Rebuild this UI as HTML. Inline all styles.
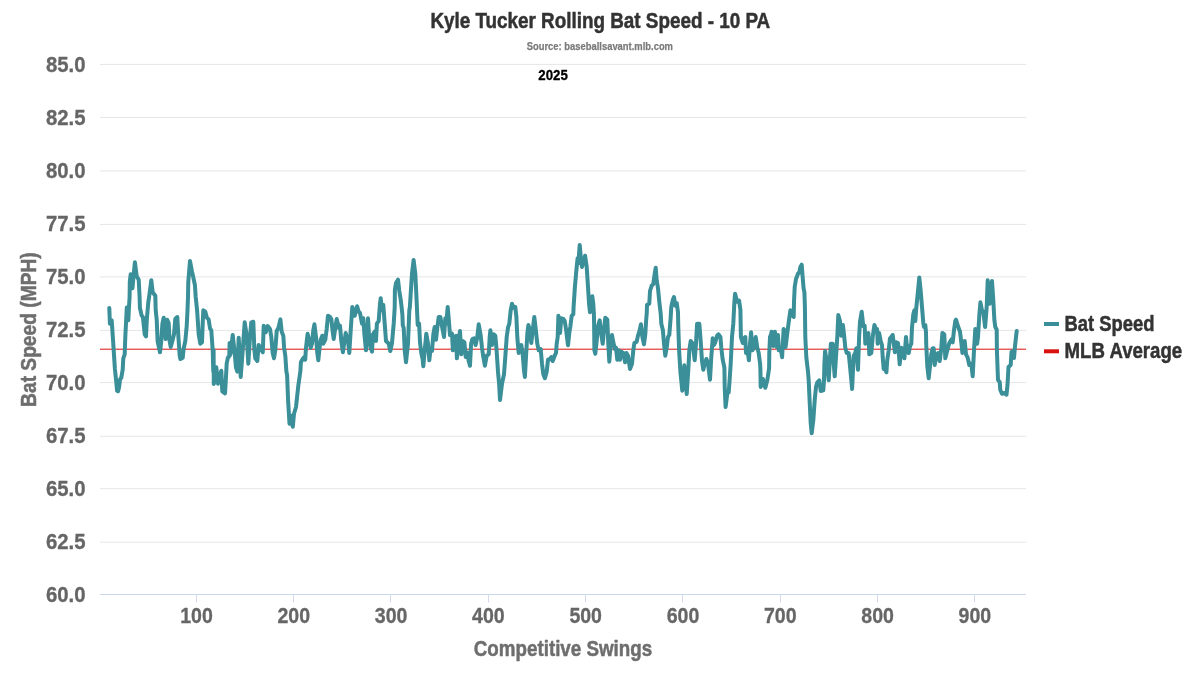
<!DOCTYPE html>
<html lang="en"><head><meta charset="utf-8"><title>Kyle Tucker Rolling Bat Speed - 10 PA</title>
<style>
html,body{margin:0;padding:0;background:#fff;}
body{width:1200px;height:675px;overflow:hidden;}
svg{display:block;}
svg text{font-family:"Liberation Sans",Arial,sans-serif;font-weight:bold;}
</style></head><body>
<svg width="1200" height="675" viewBox="0 0 1200 675">
<rect width="1200" height="675" fill="#ffffff"/>
<g stroke="#e6e6e6" stroke-width="1">
<line x1="100" x2="1026" y1="64.4" y2="64.4"/>
<line x1="100" x2="1026" y1="117.4" y2="117.4"/>
<line x1="100" x2="1026" y1="170.9" y2="170.9"/>
<line x1="100" x2="1026" y1="224.4" y2="224.4"/>
<line x1="100" x2="1026" y1="276.9" y2="276.9"/>
<line x1="100" x2="1026" y1="330.4" y2="330.4"/>
<line x1="100" x2="1026" y1="382.6" y2="382.6"/>
<line x1="100" x2="1026" y1="436.3" y2="436.3"/>
<line x1="100" x2="1026" y1="488.7" y2="488.7"/>
<line x1="100" x2="1026" y1="542.2" y2="542.2"/>
</g>
<line x1="100" x2="1026" y1="594.5" y2="594.5" stroke="#ccd6eb" stroke-width="1"/>
<g stroke="#d2daec" stroke-width="1">
<line x1="196.5" x2="196.5" y1="594.5" y2="602.5"/>
<line x1="293.5" x2="293.5" y1="594.5" y2="602.5"/>
<line x1="390.5" x2="390.5" y1="594.5" y2="602.5"/>
<line x1="488.5" x2="488.5" y1="594.5" y2="602.5"/>
<line x1="585.5" x2="585.5" y1="594.5" y2="602.5"/>
<line x1="682.5" x2="682.5" y1="594.5" y2="602.5"/>
<line x1="780.5" x2="780.5" y1="594.5" y2="602.5"/>
<line x1="877.5" x2="877.5" y1="594.5" y2="602.5"/>
<line x1="974.5" x2="974.5" y1="594.5" y2="602.5"/>
</g>
<g>
<text x="85.6" y="72.2" font-size="21.5" fill="#666666" stroke="#666666" stroke-width="0.3" stroke-linejoin="round" text-anchor="end" textLength="39.6" lengthAdjust="spacingAndGlyphs" >85.0</text>
<text x="85.6" y="125.2" font-size="21.5" fill="#666666" stroke="#666666" stroke-width="0.3" stroke-linejoin="round" text-anchor="end" textLength="39.6" lengthAdjust="spacingAndGlyphs" >82.5</text>
<text x="85.6" y="178.2" font-size="21.5" fill="#666666" stroke="#666666" stroke-width="0.3" stroke-linejoin="round" text-anchor="end" textLength="39.6" lengthAdjust="spacingAndGlyphs" >80.0</text>
<text x="85.6" y="231.2" font-size="21.5" fill="#666666" stroke="#666666" stroke-width="0.3" stroke-linejoin="round" text-anchor="end" textLength="39.6" lengthAdjust="spacingAndGlyphs" >77.5</text>
<text x="85.6" y="284.2" font-size="21.5" fill="#666666" stroke="#666666" stroke-width="0.3" stroke-linejoin="round" text-anchor="end" textLength="39.6" lengthAdjust="spacingAndGlyphs" >75.0</text>
<text x="85.6" y="337.2" font-size="21.5" fill="#666666" stroke="#666666" stroke-width="0.3" stroke-linejoin="round" text-anchor="end" textLength="39.6" lengthAdjust="spacingAndGlyphs" >72.5</text>
<text x="85.6" y="390.2" font-size="21.5" fill="#666666" stroke="#666666" stroke-width="0.3" stroke-linejoin="round" text-anchor="end" textLength="39.6" lengthAdjust="spacingAndGlyphs" >70.0</text>
<text x="85.6" y="443.2" font-size="21.5" fill="#666666" stroke="#666666" stroke-width="0.3" stroke-linejoin="round" text-anchor="end" textLength="39.6" lengthAdjust="spacingAndGlyphs" >67.5</text>
<text x="85.6" y="496.2" font-size="21.5" fill="#666666" stroke="#666666" stroke-width="0.3" stroke-linejoin="round" text-anchor="end" textLength="39.6" lengthAdjust="spacingAndGlyphs" >65.0</text>
<text x="85.6" y="549.2" font-size="21.5" fill="#666666" stroke="#666666" stroke-width="0.3" stroke-linejoin="round" text-anchor="end" textLength="39.6" lengthAdjust="spacingAndGlyphs" >62.5</text>
<text x="85.6" y="602.2" font-size="21.5" fill="#666666" stroke="#666666" stroke-width="0.3" stroke-linejoin="round" text-anchor="end" textLength="39.6" lengthAdjust="spacingAndGlyphs" >60.0</text>
</g>
<g>
<text x="196.5" y="623.2" font-size="21.5" fill="#666666" stroke="#666666" stroke-width="0.3" stroke-linejoin="round" text-anchor="middle" textLength="32.6" lengthAdjust="spacingAndGlyphs" >100</text>
<text x="293.8" y="623.2" font-size="21.5" fill="#666666" stroke="#666666" stroke-width="0.3" stroke-linejoin="round" text-anchor="middle" textLength="32.6" lengthAdjust="spacingAndGlyphs" >200</text>
<text x="391.1" y="623.2" font-size="21.5" fill="#666666" stroke="#666666" stroke-width="0.3" stroke-linejoin="round" text-anchor="middle" textLength="32.6" lengthAdjust="spacingAndGlyphs" >300</text>
<text x="488.4" y="623.2" font-size="21.5" fill="#666666" stroke="#666666" stroke-width="0.3" stroke-linejoin="round" text-anchor="middle" textLength="32.6" lengthAdjust="spacingAndGlyphs" >400</text>
<text x="585.7" y="623.2" font-size="21.5" fill="#666666" stroke="#666666" stroke-width="0.3" stroke-linejoin="round" text-anchor="middle" textLength="32.6" lengthAdjust="spacingAndGlyphs" >500</text>
<text x="683.0" y="623.2" font-size="21.5" fill="#666666" stroke="#666666" stroke-width="0.3" stroke-linejoin="round" text-anchor="middle" textLength="32.6" lengthAdjust="spacingAndGlyphs" >600</text>
<text x="780.3" y="623.2" font-size="21.5" fill="#666666" stroke="#666666" stroke-width="0.3" stroke-linejoin="round" text-anchor="middle" textLength="32.6" lengthAdjust="spacingAndGlyphs" >700</text>
<text x="877.6" y="623.2" font-size="21.5" fill="#666666" stroke="#666666" stroke-width="0.3" stroke-linejoin="round" text-anchor="middle" textLength="32.6" lengthAdjust="spacingAndGlyphs" >800</text>
<text x="974.9" y="623.2" font-size="21.5" fill="#666666" stroke="#666666" stroke-width="0.3" stroke-linejoin="round" text-anchor="middle" textLength="32.6" lengthAdjust="spacingAndGlyphs" >900</text>
</g>
<text x="430.4" y="27.7" font-size="22" fill="#333333" stroke="#333333" stroke-width="0.5" stroke-linejoin="round" text-anchor="start" textLength="339.8" lengthAdjust="spacingAndGlyphs" >Kyle Tucker Rolling Bat Speed - 10 PA</text>
<text x="526.7" y="49.7" font-size="11.4" fill="#7a7a7a" stroke="#7a7a7a" stroke-width="0.25" stroke-linejoin="round" text-anchor="start" textLength="146.3" lengthAdjust="spacingAndGlyphs" >Source: baseballsavant.mlb.com</text>
<text x="538.3" y="79.7" font-size="14.4" fill="#000000" stroke="#000000" stroke-width="0.3" stroke-linejoin="round" text-anchor="start" textLength="29.5" lengthAdjust="spacingAndGlyphs" >2025</text>
<text x="473.8" y="655.6" font-size="22" fill="#6e6e6e" stroke="#6e6e6e" stroke-width="0.5" stroke-linejoin="round" text-anchor="start" textLength="178.4" lengthAdjust="spacingAndGlyphs" >Competitive Swings</text>
<text transform="translate(35.6,406.9) rotate(-90)" x="0" y="0" font-size="22" fill="#6e6e6e" stroke="#6e6e6e" stroke-width="0.5" stroke-linejoin="round" textLength="154.6" lengthAdjust="spacingAndGlyphs">Bat Speed (MPH)</text>
<line x1="100" x2="1026" y1="349.2" y2="349.2" stroke="#d9120f" stroke-width="1"/>
<path d="M109.3 307.9 L109.9 323.7 L111.7 320.3 L113.1 341.0 L114.9 369.0 L116.3 382.3 L117.1 390.7 L118.1 391.3 L119.1 387.0 L120.0 379.7 L121.3 377.7 L122.7 369.7 L123.3 358.3 L124.7 354.3 L125.3 337.0 L126.3 317.0 L126.8 307.4 L128.3 320.3 L129.1 305.0 L129.6 297.0 L129.8 281.7 L130.7 274.3 L132.4 288.3 L134.9 262.3 L136.7 276.3 L138.7 279.7 L139.6 297.0 L139.9 307.7 L141.6 315.4 L142.9 317.0 L144.7 334.3 L146.0 336.3 L146.9 318.3 L148.3 302.3 L149.1 297.0 L151.3 280.3 L152.7 292.3 L155.3 295.7 L155.7 310.3 L156.7 319.7 L157.6 341.0 L158.7 346.3 L160.0 352.3 L161.3 341.0 L162.4 323.7 L163.7 317.7 L165.1 330.3 L165.7 339.0 L167.1 319.7 L168.7 323.0 L169.6 341.0 L170.7 347.0 L172.7 339.7 L174.0 334.3 L175.3 319.0 L177.3 317.0 L178.4 337.0 L179.7 355.7 L180.4 359.0 L182.7 357.7 L183.6 349.0 L185.3 341.0 L186.7 326.3 L187.5 310.3 L188.0 297.0 L188.3 281.7 L190.0 261.0 L192.0 271.7 L193.1 276.3 L194.9 285.0 L195.7 297.0 L197.1 310.3 L198.7 334.3 L200.3 343.7 L202.0 342.3 L202.7 323.7 L203.3 310.3 L205.3 311.7 L206.9 317.7 L208.7 319.7 L210.0 328.3 L211.3 330.3 L212.7 350.3 L213.3 371.7 L213.6 350.0 L213.8 384.0 L216.3 367.3 L218.0 383.7 L221.3 370.7 L222.3 391.3 L225.0 393.3 L226.0 376.7 L226.7 363.3 L228.0 357.3 L229.3 356.3 L229.6 343.0 L229.8 355.7 L230.7 353.0 L232.7 335.0 L234.7 353.0 L236.0 367.7 L237.3 371.7 L238.7 337.7 L240.7 377.0 L242.7 350.3 L244.7 322.3 L246.7 335.7 L248.3 363.7 L250.0 337.0 L251.3 322.3 L253.3 321.7 L254.4 350.3 L255.3 358.3 L257.3 361.0 L258.7 345.0 L260.9 349.0 L262.8 352.3 L263.7 325.7 L265.7 332.3 L267.7 326.1 L270.0 329.0 L271.3 337.0 L272.7 353.0 L274.0 358.3 L275.3 350.3 L276.7 331.0 L278.4 327.9 L280.4 319.4 L281.7 331.7 L283.3 335.7 L284.1 347.7 L285.3 355.7 L286.4 371.7 L287.1 375.0 L288.1 400.3 L289.5 423.7 L291.1 415.7 L292.8 426.7 L294.0 413.7 L296.0 407.0 L298.3 385.7 L300.4 371.0 L300.9 362.3 L302.7 359.0 L304.0 357.3 L305.2 359.7 L306.0 347.7 L307.6 333.7 L309.3 341.0 L310.7 347.7 L312.0 343.7 L313.3 330.3 L314.4 324.3 L316.0 337.0 L317.3 353.0 L318.3 360.3 L319.6 347.7 L320.7 339.7 L322.3 335.7 L323.3 343.7 L325.3 339.7 L326.7 329.0 L328.0 315.7 L330.0 317.0 L331.3 319.0 L332.7 331.7 L333.7 339.0 L335.3 327.7 L336.7 319.0 L338.7 327.7 L340.0 325.7 L341.3 341.0 L342.9 352.3 L344.3 342.3 L345.7 333.0 L348.0 341.0 L349.3 353.0 L350.7 330.3 L352.3 307.0 L354.7 315.7 L357.1 306.3 L358.7 311.7 L360.0 313.0 L362.0 323.7 L363.3 318.3 L364.4 334.3 L366.0 350.3 L367.1 337.0 L368.0 318.3 L369.1 337.0 L370.7 347.7 L372.0 351.7 L372.9 334.3 L374.7 331.7 L376.0 341.0 L376.9 323.7 L378.7 321.0 L380.0 303.7 L380.7 298.3 L382.0 310.3 L383.3 305.0 L384.7 323.7 L386.0 341.0 L388.7 343.7 L390.3 351.0 L392.0 343.0 L393.7 323.7 L394.7 307.7 L394.9 289.7 L396.0 283.0 L398.0 279.7 L399.3 291.0 L400.7 299.7 L401.6 307.0 L402.4 315.0 L402.8 325.3 L403.7 327.9 L404.7 350.3 L406.0 362.3 L408.0 343.7 L409.3 310.3 L409.9 307.0 L410.7 293.7 L412.0 273.7 L413.6 260.1 L415.3 273.7 L416.3 293.7 L417.2 313.7 L417.7 325.0 L419.1 323.7 L420.0 342.3 L421.3 353.0 L422.7 359.7 L423.3 366.3 L424.7 350.3 L426.3 333.7 L428.0 343.7 L429.3 360.3 L430.7 347.7 L432.0 351.0 L433.3 334.3 L434.7 327.0 L436.0 339.7 L437.3 327.7 L438.7 317.0 L440.4 317.0 L442.0 326.3 L444.0 337.0 L445.3 318.3 L446.3 323.7 L447.7 307.0 L448.9 321.0 L450.0 335.0 L452.0 333.7 L452.9 350.3 L454.7 347.7 L456.0 335.7 L456.9 358.3 L458.3 341.0 L460.0 331.0 L461.3 354.3 L462.7 341.0 L464.4 342.3 L465.7 357.0 L467.1 352.3 L468.7 361.0 L470.0 365.7 L471.1 343.7 L472.4 339.0 L474.0 338.3 L475.6 345.0 L477.3 337.0 L478.7 324.3 L480.7 335.7 L482.0 347.7 L483.3 357.0 L484.9 365.7 L486.7 355.7 L488.7 354.3 L489.7 337.0 L490.4 330.3 L492.0 345.0 L493.7 334.3 L495.3 335.7 L496.4 347.7 L498.0 371.7 L499.1 383.7 L500.0 399.9 L502.0 383.7 L504.0 374.3 L505.3 357.0 L506.7 337.0 L508.0 327.7 L509.3 323.7 L510.7 310.3 L512.0 303.7 L513.7 307.7 L515.3 307.0 L516.4 317.0 L517.3 337.0 L518.7 353.0 L520.0 347.7 L521.3 345.0 L522.7 354.3 L524.0 370.3 L524.9 377.0 L526.0 357.0 L527.3 334.3 L528.4 325.0 L530.0 330.3 L531.3 343.0 L532.7 330.3 L534.3 317.0 L535.6 327.7 L537.3 343.7 L538.7 350.3 L540.7 349.0 L542.0 363.7 L543.3 374.3 L544.9 378.3 L546.7 371.7 L548.0 359.7 L550.0 359.0 L551.3 357.0 L552.7 361.0 L554.7 355.7 L556.0 353.0 L556.7 343.7 L557.7 337.0 L558.4 315.7 L560.0 333.0 L561.3 318.3 L563.3 319.0 L564.7 321.0 L566.0 329.0 L568.0 345.3 L569.3 333.0 L570.4 326.3 L571.7 315.7 L573.3 314.3 L573.6 307.0 L574.9 287.0 L576.3 271.0 L577.6 258.3 L578.4 263.0 L579.7 245.0 L581.1 260.3 L582.0 267.0 L583.3 261.7 L585.1 255.7 L586.7 267.0 L588.0 287.0 L589.1 304.3 L590.0 312.3 L591.3 301.7 L592.3 296.3 L593.3 304.3 L593.9 313.7 L594.1 323.7 L594.4 350.3 L595.3 353.7 L596.7 341.0 L598.0 326.3 L599.7 320.3 L601.3 334.3 L602.7 343.7 L604.0 330.3 L605.3 317.7 L607.3 319.7 L608.3 343.7 L609.3 361.7 L610.7 343.7 L612.0 335.0 L613.3 342.3 L614.9 349.0 L616.0 347.7 L617.3 359.7 L618.7 350.3 L620.0 359.7 L621.3 351.7 L623.3 353.0 L625.1 362.3 L626.4 353.0 L628.0 355.7 L630.0 369.0 L632.0 363.7 L633.3 350.3 L634.4 343.0 L636.7 341.7 L638.0 335.7 L639.3 331.7 L640.9 324.3 L642.4 337.0 L644.0 344.3 L645.3 334.3 L646.1 321.0 L646.8 312.3 L647.0 305.0 L649.3 303.5 L650.0 291.0 L651.7 285.7 L653.3 284.1 L654.5 275.0 L655.7 267.7 L656.7 280.3 L658.0 288.3 L659.3 301.7 L660.7 313.7 L661.3 323.7 L662.9 330.3 L664.0 343.7 L665.3 355.7 L666.7 347.7 L668.0 337.0 L669.3 335.0 L670.7 317.0 L671.3 307.0 L672.7 300.3 L674.0 297.0 L675.3 305.7 L676.7 303.0 L678.0 312.3 L678.2 323.7 L679.1 350.3 L680.4 371.7 L682.3 390.7 L684.3 365.3 L686.7 394.0 L688.3 370.0 L689.3 350.3 L690.7 341.0 L692.7 343.7 L694.7 360.3 L696.0 343.7 L697.1 323.7 L699.3 323.7 L700.7 341.0 L702.0 361.0 L703.3 369.7 L704.7 363.7 L706.4 359.0 L708.0 363.7 L710.0 379.7 L711.3 357.0 L712.7 338.3 L714.0 345.0 L715.3 342.3 L717.1 335.7 L718.4 334.3 L720.4 337.0 L721.3 347.7 L722.7 359.7 L724.4 367.7 L724.7 387.0 L725.6 407.1 L727.3 393.7 L728.7 392.3 L729.6 380.3 L730.7 363.7 L732.0 337.0 L733.3 323.7 L734.4 301.7 L735.1 293.7 L737.1 301.7 L739.1 300.6 L740.4 309.7 L740.9 337.0 L742.7 343.0 L744.0 338.3 L745.3 337.0 L746.0 353.0 L747.3 349.0 L748.9 360.3 L750.0 343.7 L751.1 332.3 L752.4 350.3 L754.0 347.7 L755.7 337.0 L757.3 347.7 L758.7 353.0 L760.1 363.7 L760.4 369.7 L760.7 387.0 L762.9 379.0 L765.3 387.7 L767.3 380.3 L769.1 368.3 L769.3 353.0 L770.0 337.0 L771.1 334.3 L771.6 331.7 L773.3 345.9 L774.9 331.7 L776.7 347.0 L778.0 335.0 L778.9 350.3 L780.7 348.3 L782.1 357.3 L783.6 329.0 L784.3 330.3 L785.6 347.0 L787.3 333.0 L788.7 322.3 L790.4 310.3 L792.0 314.3 L793.7 317.0 L794.0 301.7 L794.7 287.0 L796.0 279.0 L798.0 273.7 L799.3 272.3 L800.4 267.0 L801.7 264.7 L802.7 277.7 L803.6 288.3 L804.4 292.3 L804.9 307.0 L805.3 337.0 L806.3 357.0 L808.0 371.7 L808.7 380.3 L809.6 400.3 L810.7 423.0 L811.7 433.3 L813.3 420.3 L814.7 400.3 L816.0 387.0 L817.3 382.3 L819.3 380.3 L820.7 391.0 L823.3 390.3 L824.0 380.3 L824.4 363.7 L825.1 351.0 L826.7 361.0 L828.7 380.3 L830.0 357.0 L830.9 343.7 L832.7 343.7 L833.7 363.7 L834.7 376.3 L836.0 357.0 L837.3 337.0 L838.3 315.0 L840.0 321.0 L841.3 335.7 L842.9 325.0 L844.0 334.3 L845.3 347.7 L846.7 353.0 L848.7 353.0 L850.0 366.3 L851.3 379.7 L852.1 389.0 L853.7 355.7 L855.3 353.0 L856.4 348.3 L858.0 369.7 L859.1 337.0 L860.0 321.7 L861.7 311.7 L863.3 326.3 L864.7 325.7 L865.3 343.7 L867.3 334.3 L868.4 333.0 L869.3 354.3 L871.3 353.0 L872.7 337.0 L874.4 325.0 L876.0 329.0 L877.1 329.0 L877.7 343.7 L879.1 333.0 L880.7 341.0 L882.0 345.0 L882.7 357.0 L883.7 369.0 L885.3 369.7 L886.4 372.3 L887.3 359.7 L888.7 350.3 L890.0 338.3 L891.3 337.0 L892.7 335.0 L894.0 345.0 L894.9 352.3 L896.3 342.3 L898.0 343.0 L898.9 354.3 L899.7 364.3 L901.3 347.7 L902.7 349.0 L904.4 358.3 L906.0 337.0 L907.3 350.3 L908.7 353.0 L910.0 346.3 L911.3 343.7 L912.0 327.7 L913.3 314.3 L914.4 310.3 L915.3 321.0 L916.3 307.7 L918.0 291.0 L919.3 277.4 L920.7 291.0 L922.0 307.0 L923.3 323.0 L924.0 327.0 L925.3 325.0 L926.0 332.3 L926.2 343.7 L927.3 366.3 L928.7 378.3 L930.0 366.3 L931.3 354.3 L932.7 348.3 L933.7 348.3 L934.7 365.0 L936.3 355.7 L938.0 353.0 L939.7 361.0 L941.1 350.3 L942.4 333.0 L944.3 334.3 L945.3 358.3 L947.3 350.3 L949.3 343.0 L951.3 339.7 L952.7 342.3 L954.0 330.3 L955.3 321.0 L956.0 319.7 L958.0 326.3 L960.0 331.7 L961.3 342.3 L962.4 353.0 L963.7 350.3 L964.7 341.0 L966.0 354.3 L967.7 357.7 L969.3 365.0 L971.3 363.7 L972.7 376.3 L974.0 350.3 L975.3 329.0 L977.1 343.7 L978.0 337.0 L979.3 315.7 L980.4 302.3 L982.0 310.3 L983.3 311.7 L985.1 327.0 L986.1 314.3 L986.7 307.0 L987.7 280.3 L989.6 303.7 L992.0 281.0 L993.3 300.3 L994.4 320.3 L995.3 327.0 L996.7 329.7 L996.9 350.3 L997.7 372.0 L998.0 380.0 L999.7 382.0 L1000.3 390.0 L1002.0 393.7 L1004.5 393.0 L1006.5 394.7 L1007.5 385.0 L1008.5 367.0 L1010.7 365.0 L1011.5 352.0 L1013.0 351.0 L1014.0 358.0 L1015.0 346.0 L1016.7 331.0" fill="none" stroke="#3a8f98" stroke-width="4" stroke-linejoin="round" stroke-linecap="round"/>
<line x1="1044" x2="1059" y1="324" y2="324" stroke="#3a8f98" stroke-width="4"/>
<text x="1064.6" y="330.5" font-size="22" fill="#333333" stroke="#333333" stroke-width="0.5" stroke-linejoin="round" text-anchor="start" textLength="89.8" lengthAdjust="spacingAndGlyphs" >Bat Speed</text>
<line x1="1044" x2="1059" y1="351.3" y2="351.3" stroke="#d9120f" stroke-width="4"/>
<text x="1064.6" y="357.5" font-size="22" fill="#333333" stroke="#333333" stroke-width="0.5" stroke-linejoin="round" text-anchor="start" textLength="117.6" lengthAdjust="spacingAndGlyphs" >MLB Average</text>
</svg></body></html>
